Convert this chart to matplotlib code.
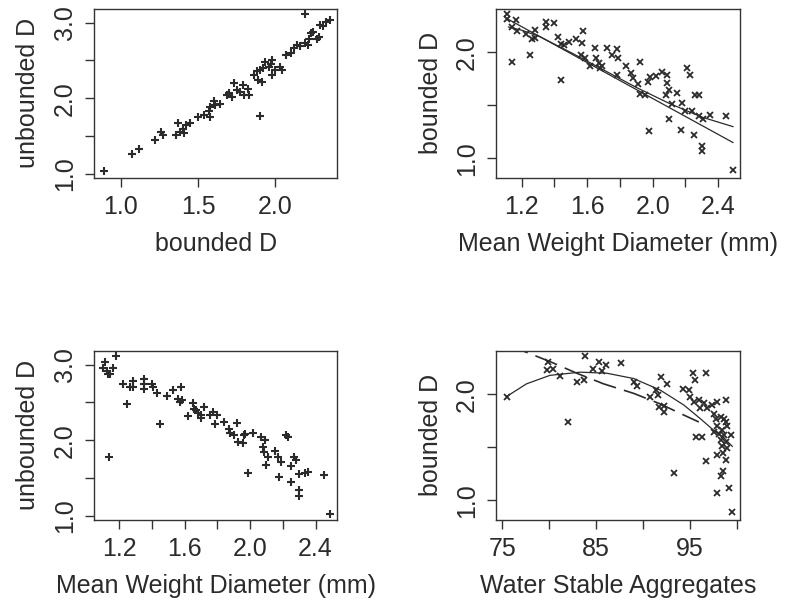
import matplotlib
matplotlib.use('Agg')
import matplotlib.pyplot as plt
from matplotlib.ticker import FixedLocator, FixedFormatter

plt.rcParams['font.family'] = ['Liberation Sans', 'DejaVu Sans']

INK = '#2b2b2b'

# --- panel 1: bounded D vs unbounded D
bd1 = [0.89, 1.07, 1.12, 1.22, 1.26, 1.27, 1.36, 1.37, 1.38, 1.40, 1.41, 1.42, 1.45,
       1.50, 1.54, 1.58, 1.58, 1.60, 1.61, 1.64, 1.57,
       1.69, 1.70, 1.72, 1.73, 1.75, 1.77, 1.79, 1.80, 1.83, 1.82,
       1.86, 1.88, 1.89, 1.91, 1.92, 1.90, 1.93, 1.96, 1.98, 1.97, 1.98, 2.00, 2.03, 2.04,
       1.90,
       2.07, 2.10, 2.12, 2.14, 2.16, 2.19, 2.21, 2.22, 2.23, 2.24, 2.27, 2.28, 2.29, 2.31, 2.33, 2.35,
       2.19]
ud1 = [1.04, 1.26, 1.33, 1.45, 1.56, 1.52, 1.52, 1.67, 1.56, 1.60, 1.54, 1.65, 1.67,
       1.76, 1.78, 1.76, 1.89, 1.96, 1.91, 1.93, 1.83,
       2.04, 2.07, 2.02, 2.20, 2.11, 2.09, 2.18, 2.04, 2.05, 2.12,
       2.31, 2.36, 2.24, 2.22, 2.40, 2.38, 2.48, 2.42, 2.31, 2.45, 2.50, 2.37, 2.42, 2.37,
       1.77,
       2.57, 2.60, 2.66, 2.71, 2.69, 2.73, 2.71, 2.79, 2.86, 2.88, 2.79, 2.81, 2.97, 2.96, 3.01, 3.04,
       3.11]

# --- panel 2: MWD vs bounded D
mwd2 = [1.114, 1.114, 1.165, 1.14, 1.175, 1.227, 1.264, 1.284, 1.28,
        1.35, 1.35, 1.397, 1.42, 1.44, 1.46, 1.49, 1.53, 1.575, 1.57,
        1.14, 1.25, 1.44,
        1.56, 1.585, 1.62, 1.65, 1.657, 1.67, 1.69, 1.68, 1.72, 1.75, 1.78, 1.79, 1.78, 1.84,
        1.87, 1.88, 1.91, 1.92, 1.92, 1.955, 1.97, 1.986, 2.02, 2.06, 2.09, 2.085, 2.08, 2.10,
        2.12, 2.15, 2.18, 2.20, 2.21, 2.23, 2.26, 2.28, 2.24, 2.28, 2.31, 2.35, 2.45,
        2.10, 1.98, 2.17, 2.25, 2.30, 2.30, 2.49]
bd2 = [2.36, 2.32, 2.31, 2.24, 2.20, 2.17, 2.13, 2.21, 2.14,
       2.29, 2.24, 2.28, 2.15, 2.08, 2.07, 2.10, 2.13, 2.20, 2.09,
       1.91, 1.98, 1.74,
       1.98, 1.95, 1.87, 2.04, 1.95, 1.90, 1.87, 1.85, 2.04, 1.98, 2.03, 1.95, 1.79, 1.87,
       1.81, 1.76, 1.70, 1.91, 1.61, 1.60, 1.72, 1.77, 1.78, 1.82, 1.79, 1.71, 1.60, 1.65,
       1.51, 1.62, 1.52, 1.45, 1.85, 1.79, 1.60, 1.60, 1.45, 1.40, 1.37, 1.41, 1.40,
       1.37, 1.26, 1.27, 1.22, 1.12, 1.07, 0.89]
# fitted lines
lin2_x = [1.11, 2.49]
lin2_y = [2.32, 1.15]
crv2_x = [1.12, 1.20, 1.31, 1.50, 1.70, 1.90, 2.10, 2.30, 2.49]
crv2_y = [2.24, 2.21, 2.15, 2.00, 1.835, 1.67, 1.52, 1.39, 1.30]

# --- panel 3: MWD vs unbounded D
mwd3 = [1.104, 1.114, 1.128, 1.134, 1.145, 1.165, 1.182,
        1.14,
        1.227, 1.247, 1.268, 1.284, 1.288, 1.35, 1.35, 1.354, 1.40, 1.41, 1.43, 1.448, 1.49, 1.53, 1.58,
        1.56, 1.57, 1.586, 1.62, 1.653, 1.66, 1.67, 1.68, 1.70, 1.72, 1.70, 1.756, 1.776, 1.785, 1.80,
        1.84, 1.87, 1.88, 1.90, 1.92, 1.924, 1.955, 1.965, 1.986, 1.97, 2.016, 2.07, 2.09, 2.08,
        2.088, 2.11, 2.10, 2.15, 2.17, 2.174, 2.187, 2.22, 2.23, 2.25, 2.27, 2.28, 2.25, 2.30,
        2.30, 2.30, 2.334, 2.355, 2.45, 2.488]
ud3 = [2.96, 3.04, 2.92, 2.87, 2.88, 2.96, 3.11,
       1.78,
       2.75, 2.48, 2.70, 2.79, 2.70, 2.81, 2.74, 2.68, 2.75, 2.71, 2.62, 2.21, 2.58, 2.66, 2.70,
       2.54, 2.51, 2.53, 2.32, 2.49, 2.42, 2.40, 2.36, 2.33, 2.44, 2.29, 2.33, 2.37, 2.21, 2.33,
       2.24, 2.15, 2.10, 2.07, 2.23, 1.98, 1.96, 2.07, 1.57, 2.09, 2.10, 2.04, 2.01, 1.91,
       1.85, 1.78, 1.67, 1.86, 1.78, 1.52, 1.71, 2.07, 2.05, 1.66, 1.78, 1.74, 1.45, 1.56,
       1.35, 1.27, 1.57, 1.58, 1.54, 1.03]

# --- panel 4: WSA vs bounded D
wsa4 = [75.43,
        79.71, 80.43, 79.90, 81.14, 82.93, 83.82, 83.70, 84.64, 85.29, 85.64, 86.07, 87.68, 82.04,
        89.00, 89.36, 90.71, 91.43, 91.57, 91.93, 92.57, 91.68, 92.21, 92.29, 93.29,
        94.29, 94.89, 95.36, 95.54, 96.75, 95.07, 95.43, 95.96, 96.07, 96.50, 96.86, 97.39, 97.57,
        97.93, 98.82, 95.61, 96.32, 96.75,
        97.75, 98.29, 98.64, 98.82, 97.93, 98.46, 97.57, 98.11, 98.64, 99.00, 98.29, 98.82, 99.43,
        98.46, 97.93, 98.57, 98.82, 98.29, 98.57, 99.18, 97.86, 99.46, 99.00]
bd4 = [1.98,
       2.23, 2.24, 2.31, 2.17, 2.12, 2.36, 2.14, 2.24, 2.31, 2.22, 2.28, 2.30, 1.74,
       2.12, 2.08, 1.98, 2.04, 1.99, 2.16, 2.10, 1.88, 1.89, 1.83, 1.26,
       2.05, 2.04, 2.20, 2.14, 2.20, 1.98, 1.93, 1.95, 1.87, 1.92, 1.87, 1.90, 1.82,
       1.93, 1.95, 1.60, 1.60, 1.37,
       1.77, 1.79, 1.77, 1.74, 1.70, 1.66, 1.65, 1.63, 1.62, 1.70, 1.57, 1.55, 1.62,
       1.51, 1.43, 1.45, 1.38, 1.23, 1.28, 1.12, 1.07, 0.89, 1.49]
crv4_x = [75.43, 77.57, 80.07, 83.29, 86.14, 89.00, 91.86, 94.36, 96.14, 97.57, 98.64, 99.54]
crv4_y = [1.98, 2.10, 2.18, 2.21, 2.20, 2.15, 2.04, 1.90, 1.77, 1.66, 1.59, 1.51]
dsh4_x = [75.40, 77.20, 80.07, 82.93, 85.79, 89.00, 91.86, 94.00, 95.96]
dsh4_y = [2.48, 2.41, 2.31, 2.20, 2.10, 2.01, 1.91, 1.82, 1.74]

fig = plt.figure(figsize=(7.94, 6.02), dpi=100)
ax1 = fig.add_axes([0.1184, 0.7048, 0.3064, 0.2803])
ax2 = fig.add_axes([0.6253, 0.7048, 0.3067, 0.2803])
ax3 = fig.add_axes([0.1184, 0.1367, 0.3064, 0.2803])
ax4 = fig.add_axes([0.6253, 0.1367, 0.3067, 0.2803])


def style(ax, xt, xl, yt, yl, xlab, ylab):
    for s in ax.spines.values():
        s.set_linewidth(1.0)
        s.set_color('#333333')
    ax.xaxis.set_major_locator(FixedLocator(xt))
    ax.xaxis.set_major_formatter(FixedFormatter(xl))
    ax.yaxis.set_major_locator(FixedLocator(yt))
    ax.yaxis.set_major_formatter(FixedFormatter(yl))
    ax.tick_params(length=6.5, width=1.0, color='#333333', labelsize=18,
                   labelcolor=INK, pad=6)
    for t in ax.get_yticklabels():
        t.set_rotation(90)
        t.set_va('center')
    ax.set_xlabel(xlab, fontsize=18, color=INK, labelpad=9)
    ax.set_ylabel(ylab, fontsize=18, color=INK, labelpad=9)


ax1.plot(bd1, ud1, ls='none', marker='+', ms=5.5, mew=1.5, color=INK)
ax1.set_xlim(0.827, 2.40)
ax1.set_ylim(0.952, 3.18)
style(ax1, [1.0, 1.5, 2.0], ['1.0', '1.5', '2.0'],
      [1.0, 1.5, 2.0, 2.5, 3.0], ['1.0', '', '2.0', '', '3.0'],
      'bounded D', 'unbounded D')

ax2.plot(mwd2, bd2, ls='none', marker='x', ms=3.8, mew=1.3, color=INK)
ax2.plot(lin2_x, lin2_y, color=INK, lw=0.9)
ax2.plot(crv2_x, crv2_y, color=INK, lw=0.9)
ax2.set_xlim(1.047, 2.533)
ax2.set_ylim(0.818, 2.41)
style(ax2, [1.2, 1.4, 1.6, 1.8, 2.0, 2.2, 2.4], ['1.2', '', '1.6', '', '2.0', '', '2.4'],
      [1.0, 1.5, 2.0], ['1.0', '', '2.0'],
      'Mean Weight Diameter (mm)', 'bounded D')

ax3.plot(mwd3, ud3, ls='none', marker='+', ms=5.5, mew=1.5, color=INK)
ax3.set_xlim(1.047, 2.533)
ax3.set_ylim(0.952, 3.18)
style(ax3, [1.2, 1.4, 1.6, 1.8, 2.0, 2.2, 2.4], ['1.2', '', '1.6', '', '2.0', '', '2.4'],
      [1.0, 1.5, 2.0, 2.5, 3.0], ['1.0', '', '2.0', '', '3.0'],
      'Mean Weight Diameter (mm)', 'unbounded D')

ax4.plot(wsa4, bd4, ls='none', marker='x', ms=3.8, mew=1.3, color=INK)
ax4.plot(crv4_x, crv4_y, color=INK, lw=0.9)
ax4.plot(dsh4_x, dsh4_y, color=INK, lw=1.2, dashes=(14, 5))
ax4.set_xlim(74.36, 100.36)
ax4.set_ylim(0.818, 2.41)
style(ax4, [75, 80, 85, 90, 95, 100], ['75', '', '85', '', '95', ''],
      [1.0, 1.5, 2.0], ['1.0', '', '2.0'],
      'Water Stable Aggregates', 'bounded D')

fig.savefig('out.png', dpi=100)
